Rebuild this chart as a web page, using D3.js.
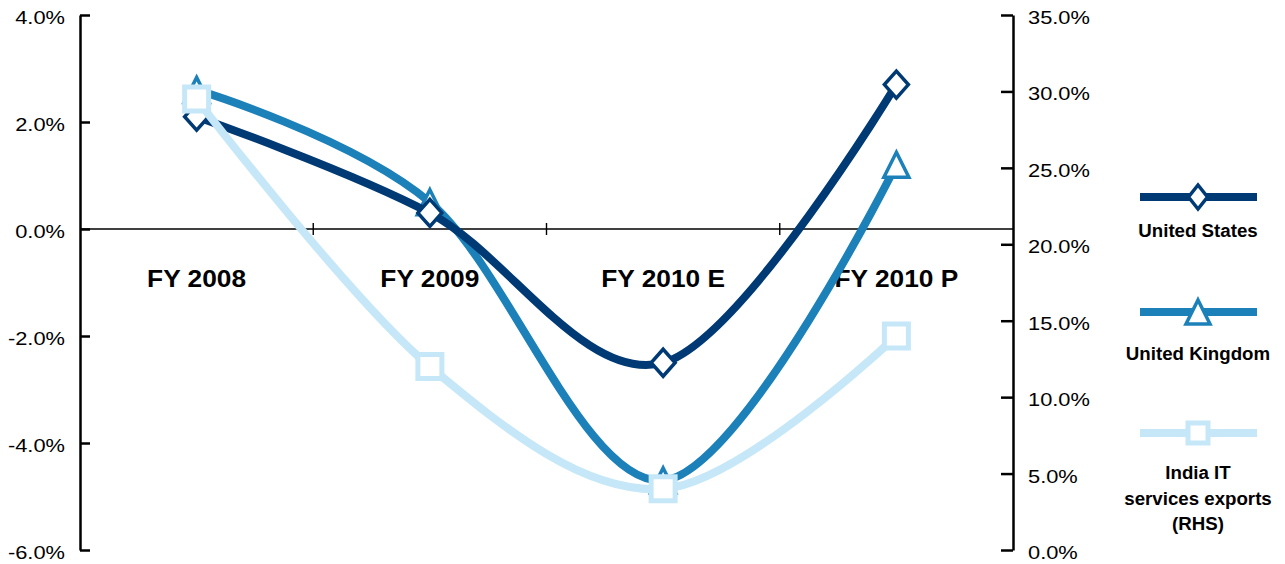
<!DOCTYPE html>
<html>
<head>
<meta charset="utf-8">
<script src="https://cdn.jsdelivr.net/npm/d3@7/dist/d3.min.js"></script>
<style>
  html, body { margin: 0; padding: 0; background: #fff; }
  svg { display: block; }
  text { font-family: "Liberation Sans", Arial, sans-serif; fill: #000; }
</style>
</head>
<body>
<svg id="chart" width="1285" height="564"></svg>
<script>
// ---------- data ----------
const categories = ["FY 2008", "FY 2009", "FY 2010 E", "FY 2010 P"];
const usValues    = [0.021, 0.003, -0.025, 0.027];   // left axis
const ukValues    = [0.026, 0.005, -0.047, 0.012];   // left axis
const indiaValues = [0.295, 0.120, 0.040, 0.140];    // right axis (RHS)
const leftTicks  = [-0.06, -0.04, -0.02, 0.0, 0.02, 0.04];
const rightTicks = [0.0, 0.05, 0.10, 0.15, 0.20, 0.25, 0.30, 0.35];
const seriesNames = ["United States", "United Kingdom", "India IT services exports (RHS)"];

// ---------- layout ----------
const svg = d3.select("#chart");
const X0 = 80, X1 = 1013, Y0 = 15, Y1 = 550;
const colUS = "#003A74", colUK = "#1C81B9", colIN = "#C5E7F8";

const x = d3.scaleBand().domain(categories).range([X0, X1]);
const yL = d3.scaleLinear().domain([-0.06, 0.04]).range([Y1, Y0]);
const yR = d3.scaleLinear().domain([0, 0.35]).range([Y1, Y0]);
const cx = c => x(c) + x.bandwidth() / 2;
const fmt = d3.formatLocale({ decimal: ".", thousands: ",", grouping: [3], currency: ["", ""], minus: "-" }).format(".1%");

function stretchText(sel, sx) {
  sel.each(function () {
    const t = d3.select(this);
    const ax = +t.attr("x") || 0;
    const ay = +t.attr("y") || 0;
    t.attr("transform", `translate(${ax},${ay}) scale(${sx},1) translate(${-ax},${-ay})`);
  });
}

// zero line with category-boundary ticks
svg.append("line")
  .attr("x1", X0).attr("x2", X1)
  .attr("y1", yL(0)).attr("y2", yL(0))
  .attr("stroke", "#000").attr("stroke-width", 1.6);
svg.append("g").selectAll("line")
  .data(categories.slice(1))
  .join("line")
  .attr("x1", d => x(d)).attr("x2", d => x(d))
  .attr("y1", yL(0) - 6).attr("y2", yL(0) + 6)
  .attr("stroke", "#000").attr("stroke-width", 1.4);

// category labels
const catText = svg.append("g").selectAll("text")
  .data(categories)
  .join("text")
  .attr("x", d => cx(d))
  .attr("y", 287)
  .attr("text-anchor", "middle")
  .attr("font-size", 23.5)
  .attr("font-weight", "bold")
  .text(d => d);
stretchText(catText, 1.12);

// left axis
const gL = svg.append("g").attr("transform", `translate(${X0},0)`)
  .call(d3.axisLeft(yL).tickValues(leftTicks).tickFormat(fmt).tickSize(-10).tickSizeOuter(0).tickPadding(15));
gL.select(".domain").attr("stroke", "#000").attr("stroke-width", 2.5);
gL.selectAll(".tick line").attr("stroke", "#000").attr("stroke-width", 2.5);
gL.selectAll(".tick text").attr("font-size", 19).attr("font-family", "Liberation Sans, Arial, sans-serif")
  .attr("fill", "#000").attr("dy", "0.45em");
stretchText(gL.selectAll(".tick text"), 1.15);

// right axis
const gR = svg.append("g").attr("transform", `translate(${X1},0)`)
  .call(d3.axisRight(yR).tickValues(rightTicks).tickFormat(fmt).tickSize(-12).tickSizeOuter(0).tickPadding(15));
gR.select(".domain").attr("stroke", "#000").attr("stroke-width", 2.5);
gR.selectAll(".tick line").attr("stroke", "#000").attr("stroke-width", 2.5);
gR.selectAll(".tick text").attr("font-size", 19).attr("font-family", "Liberation Sans, Arial, sans-serif")
  .attr("fill", "#000").attr("dy", "0.45em");
stretchText(gR.selectAll(".tick text"), 1.15);

// ---------- marker shapes ----------
function diamondPath(w, h) {
  return `M0,${-h/2}L${w/2},0L0,${h/2}L${-w/2},0Z`;
}
function trianglePath(w, h) {
  return `M0,${-h/2}L${w/2},${h/2}L${-w/2},${h/2}Z`;
}
function squarePath(s) {
  return `M${-s/2},${-s/2}H${s/2}V${s/2}H${-s/2}Z`;
}

const curve = d3.curveCardinal.tension(0);

function drawSeries(values, yScale, color, markerD, markerSW) {
  const pts = categories.map((c, i) => [cx(c), yScale(values[i])]);
  svg.append("path")
    .attr("d", d3.line().curve(curve)(pts))
    .attr("fill", "none")
    .attr("stroke", color)
    .attr("stroke-width", 8)
    .attr("stroke-linecap", "butt");
  svg.append("g").selectAll("path")
    .data(pts)
    .join("path")
    .attr("transform", d => `translate(${d[0]},${d[1]})`)
    .attr("d", markerD)
    .attr("fill", "#fff")
    .attr("stroke", color)
    .attr("stroke-width", markerSW)
    .attr("stroke-linejoin", "miter");
}

drawSeries(ukValues, yL, colUK, trianglePath(25, 25), 3.5);
drawSeries(usValues, yL, colUS, diamondPath(24, 27), 3.5);
drawSeries(indiaValues, yR, colIN, squarePath(24), 5);

// ---------- legend ----------
const LX = 1198, LX0 = 1140, LX1 = 1257;
const legend = [
  { name: seriesNames[0], color: colUS, y: 197, d: diamondPath(19, 24), sw: 3.5, lines: ["United States"], ty: 237 },
  { name: seriesNames[1], color: colUK, y: 312, d: trianglePath(24, 24), sw: 3.5, lines: ["United Kingdom"], ty: 360 },
  { name: seriesNames[2], color: colIN, y: 433, d: squarePath(20), sw: 5, lines: ["India IT", "services exports", "(RHS)"], ty: 479 }
];
const lg = svg.append("g").selectAll("g").data(legend).join("g");
lg.append("line")
  .attr("x1", LX0).attr("x2", LX1)
  .attr("y1", d => d.y).attr("y2", d => d.y)
  .attr("stroke", d => d.color).attr("stroke-width", 8);
lg.append("path")
  .attr("transform", d => `translate(${LX},${d.y})`)
  .attr("d", d => d.d)
  .attr("fill", "#fff")
  .attr("stroke", d => d.color)
  .attr("stroke-width", d => d.sw);
lg.each(function (d) {
  const t = d3.select(this).append("text")
    .attr("text-anchor", "middle")
    .attr("font-size", 18.7)
    .attr("font-weight", "bold");
  d.lines.forEach((ln, i) => {
    t.append("tspan").attr("x", LX).attr("y", d.ty + i * 25.5).text(ln);
  });
});
</script>
</body>
</html>
